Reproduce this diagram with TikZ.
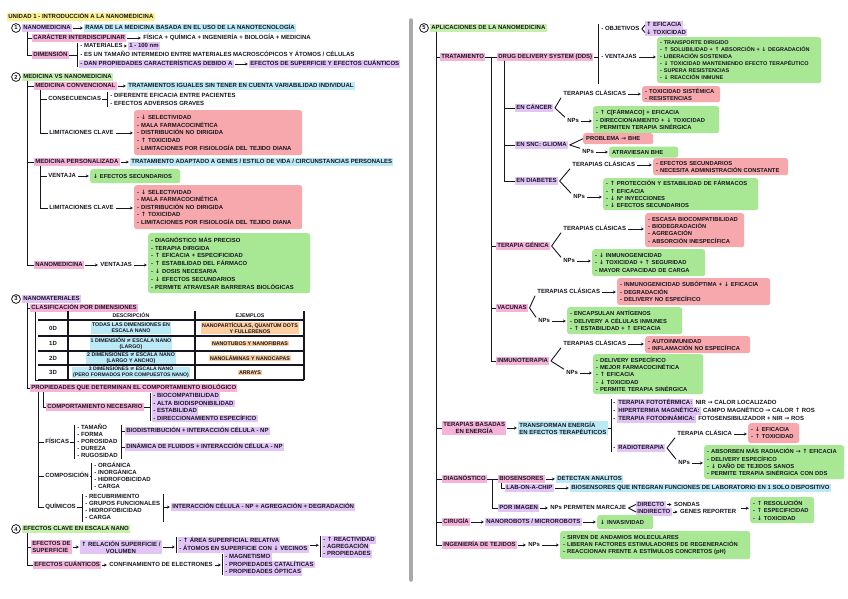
\documentclass[tikz,border=0pt]{standalone}
\usepackage{fontspec}
\setmainfont{Liberation Sans}
\newfontfamily\zsym{DejaVu Sans}
\usetikzlibrary{arrows.meta,positioning,calc}
\newcommand\zUA{{\zsym ↑}}
\newcommand\zDA{{\zsym ↓}}
\newcommand\zRA{{\zsym →}}
\newcommand\zNE{{\zsym ≠}}
\newcommand\zfs{\fontsize{6.0}{7}\selectfont\bfseries}
\newcommand\zfm{\fontsize{6.0}{7}\selectfont\bfseries}
\newcommand\zfb{\fontsize{5.8}{7.3}\selectfont\bfseries}
\newcommand\zft{\fontsize{5.3}{6.2}\selectfont\bfseries}
\newcommand\zfn{\fontsize{5.8}{6}\selectfont\bfseries}
\newcommand\zbrk[4]{\coordinate (#1t) at (#2,#3); \coordinate (#1b) at (#2,#4); \draw[ln] (#1t) -- (#1b);}
\newcommand\zlim{- \zDA{} SELECTIVIDAD\\- MALA FARMACOCINÉTICA\\- DISTRIBUCIÓN NO DIRIGIDA\\- \zUA{} TOXICIDAD\\- LIMITACIONES POR FISIOLOGÍA DEL TEJIDO DIANA}
\definecolor{pk}{RGB}{246,178,216}
\definecolor{lil}{RGB}{226,196,246}
\definecolor{blu}{RGB}{188,233,246}
\definecolor{grh}{RGB}{198,240,172}
\definecolor{yel}{RGB}{252,240,140}
\definecolor{org}{RGB}{252,206,160}
\definecolor{grb}{RGB}{168,232,148}
\definecolor{rdb}{RGB}{246,168,172}
\definecolor{ink}{RGB}{22,22,32}
\definecolor{divg}{RGB}{170,170,170}
\begin{document}
\begin{tikzpicture}[x=1pt,y=-1pt,
  L/.style={anchor=west, inner xsep=1.2pt, inner ysep=0.9pt, text height=4.6pt, text depth=0.7pt, font=\zfs, text=ink},
  ML/.style={anchor=west, align=left, inner xsep=1.2pt, inner ysep=0.9pt, font=\zfm, text=ink},
  box/.style={anchor=north west, rounded corners=2.5pt, align=left, inner xsep=3pt, inner ysep=1.5pt, font=\zfb, text=ink},
  gb/.style={box, fill=grb},
  rb/.style={box, fill=rdb},
  ln/.style={draw=ink, line width=0.9pt},
  arr/.style={draw=ink, line width=0.7pt, -{Stealth[length=2.8pt,width=3pt]}, shorten <=1pt, shorten >=1.2pt},
  cnum/.style={circle, draw=ink, line width=0.8pt, inner sep=0pt, minimum size=8.8pt, font=\zfn, text=ink},
  tbl/.style={draw=ink, line width=1.2pt},
  tc/.style={font=\zft, align=center, inner xsep=1pt, inner ysep=0.6pt, text=ink}]
\useasboundingbox (0,0) rectangle (848,599);
\fill[white] (0,0) rectangle (848,599);

% ---------------- LEFT PANEL ----------------
\node[L,fill=yel] (ttl) at (7,17) {UNIDAD 1 - INTRODUCCIÓN A LA NANOMEDICINA};

% Section 1
\node[cnum] (c1) at (16,28) {1};
\node[L,fill=lil] (n1) at (22,28) {NANOMEDICINA};
\node[L,fill=blu] (n1b) at (84,28) {RAMA DE LA MEDICINA BASADA EN EL USO DE LA NANOTECNOLOGÍA};
\draw[arr] (n1) -- (n1b);
\node[L,fill=pk] (car) at (32,38) {CARÁCTER INTERDISCIPLINAR};
\node[L] (car2) at (142,38) {FÍSICA + QUÍMICA + INGENIERÍA + BIOLOGÍA + MEDICINA};
\draw[arr] (car) -- (car2);
\node[L,fill=pk] (dim) at (32,55) {DIMENSIÓN};
\draw[ln] ([xshift=5pt]n1.south west) |- (car.west);
\draw[ln] ([xshift=5pt]n1.south west) |- (dim.west);
\zbrk{bd}{77}{43}{67}
\draw[ln] (dim) -- (dim -| bdt);
\node[L] (d1) at (79,46) {- MATERIALES};
\node[L,fill=lil] (d1b) at (128,46) {1 - 100 nm};
\draw[arr] (d1) -- (d1b);
\node[L] (d2) at (79,55) {- ES UN TAMAÑO INTERMEDIO ENTRE MATERIALES MACROSCÓPICOS Y ÁTOMOS / CÉLULAS};
\node[L,fill=lil] (d3) at (79,64) {- DAN PROPIEDADES CARACTERÍSTICAS DEBIDO A};
\node[L,fill=lil] (d3b) at (249,64) {EFECTOS DE SUPERFICIE Y EFECTOS CUÁNTICOS};
\draw[arr] (d3) -- (d3b);

% Section 2
\node[cnum] (c2) at (16,77) {2};
\node[L,fill=grh] (h2) at (22,77) {MEDICINA VS NANOMEDICINA};
\node[L,fill=pk] (mc) at (34,86) {MEDICINA CONVENCIONAL};
\node[L,fill=blu] (mc2) at (127,86) {TRATAMIENTOS IGUALES SIN TENER EN CUENTA VARIABILIDAD INDIVIDUAL};
\draw[arr] (mc) -- (mc2);
\node[L] (cons) at (47,99) {CONSECUENCIAS};
\zbrk{bc}{107}{92}{107}
\draw[ln] (cons) -- (cons -| bct);
\node[L] (cs1) at (109,96) {- DIFERENTE EFICACIA ENTRE PACIENTES};
\node[L] (cs2) at (109,104) {- EFECTOS ADVERSOS GRAVES};
\node[L] (lim1) at (48,133) {LIMITACIONES CLAVE};
\node[rb,text width=162pt,minimum height=45pt,font=\fontsize{5.9}{7.7}\selectfont\bfseries] (r1) at (134,110) {\zlim};
\draw[arr] (lim1) -- (lim1 -| r1.west);
\draw[ln] ([xshift=6pt]mc.south west) |- (cons.west);
\draw[ln] ([xshift=6pt]mc.south west) |- (lim1.west);

\node[L,fill=pk] (mp) at (34,162) {MEDICINA PERSONALIZADA};
\node[L,fill=blu] (mp2) at (130,162) {TRATAMIENTO ADAPTADO A GENES / ESTILO DE VIDA / CIRCUNSTANCIAS PERSONALES};
\draw[arr] (mp) -- (mp2);
\node[L] (ven) at (47,176) {VENTAJA};
\node[gb,text width=84pt,minimum height=14pt] (gv) at (90,169) {\zDA{} EFECTOS SECUNDARIOS};
\draw[arr] (ven) -- (ven -| gv.west);
\node[L] (lim2) at (48,208) {LIMITACIONES CLAVE};
\node[rb,text width=162pt,minimum height=44pt,font=\fontsize{5.9}{7.6}\selectfont\bfseries] (r2) at (134,185) {\zlim};
\draw[arr] (lim2) -- (lim2 -| r2.west);
\draw[ln] ([xshift=6pt]mp.south west) |- (ven.west);
\draw[ln] ([xshift=6pt]mp.south west) |- (lim2.west);

\node[L,fill=pk] (nm) at (34,265) {NANOMEDICINA};
\node[L] (nm2) at (99,265) {VENTAJAS};
\draw[arr] (nm) -- (nm2);
\node[gb,text width=156pt,minimum height=60pt,font=\fontsize{5.9}{7.8}\selectfont\bfseries] (gnm) at (148,233) {- DIAGNÓSTICO MÁS PRECISO\\- TERAPIA DIRIGIDA\\- \zUA{} EFICACIA + ESPECIFICIDAD\\- \zUA{} ESTABILIDAD DEL FÁRMACO\\- \zDA{} DOSIS NECESARIA\\- \zDA{} EFECTOS SECUNDARIOS\\- PERMITE ATRAVESAR BARRERAS BIOLÓGICAS};
\draw[arr] (nm2) -- (nm2 -| gnm.west);
\draw[ln] ([xshift=5pt]h2.south west) |- (mc.west);
\draw[ln] ([xshift=5pt]h2.south west) |- (mp.west);
\draw[ln] ([xshift=5pt]h2.south west) |- (nm.west);

% Section 3
\node[cnum] (c3) at (16,299) {3};
\node[L,fill=lil] (h3) at (22,299) {NANOMATERIALES};
\node[L,fill=pk] (cl) at (30,308) {CLASIFICACIÓN POR DIMENSIONES};
\node[L,fill=pk] (prop) at (30,388) {PROPIEDADES QUE DETERMINAN EL COMPORTAMIENTO BIOLÓGICO};
\draw[ln] ([xshift=5pt]h3.south west) |- (cl.west);
\draw[ln] ([xshift=5pt]h3.south west) |- (prop.west);
% table
\coordinate (tbl) at (38,380);
\draw[ln] ([xshift=5pt]cl.south west) |- (tbl);
\foreach \yy in {320,336,351,365,380} \draw[tbl] (38,\yy) -- (304,\yy);
\foreach \xx in {68,195,304} \draw[tbl] (\xx,311) -- (\xx,380);
\node[tc] (thd) at (131,315.5) {DESCRIPCIÓN};
\node[tc] (the) at (250,315.5) {EJEMPLOS};
\node[tc,font=\zfs] (r0) at (53,328) {0D};
\node[tc,font=\zfs] (r1d) at (53,343.5) {1D};
\node[tc,font=\zfs] (r2d) at (53,358) {2D};
\node[tc,font=\zfs] (r3d) at (53,372.5) {3D};
\node[tc,fill=blu] (dd0) at (131,328) {TODAS LAS DIMENSIONES EN\\ESCALA NANO};
\node[tc,fill=blu] (dd1) at (131,343.5) {1 DIMENSIÓN \zNE{} ESCALA NANO\\(LARGO)};
\node[tc,fill=blu] (dd2) at (131,358) {2 DIMENSIONES \zNE{} ESCALA NANO\\(LARGO Y ANCHO)};
\node[tc,fill=blu,font=\fontsize{5.1}{6}\selectfont\bfseries] (dd3) at (131,372.5) {3 DIMENSIONES \zNE{} ESCALA NANO\\(PERO FORMADOS POR COMPUESTOS NANO)};
\node[tc,fill=org] (ee0) at (250,328) {NANOPARTÍCULAS, QUANTUM DOTS\\Y FULLERENOS};
\node[tc,fill=org] (ee1) at (250,343.5) {NANOTUBOS Y NANOFIBRAS};
\node[tc,fill=org] (ee2) at (250,358) {NANOLÁMINAS Y NANOCAPAS};
\node[tc,fill=org] (ee3) at (250,372.5) {ARRAYS};

% properties
\node[L,fill=pk] (cne) at (46,407) {COMPORTAMIENTO NECESARIO};
\zbrk{bq}{150}{393}{421}
\draw[ln] (cne) -- (cne -| bqt);
\node[L,fill=lil] (q1) at (152,396) {- BIOCOMPATIBILIDAD};
\node[L,fill=lil] (q2) at (152,403.5) {- ALTA BIODISPONIBILIDAD};
\node[L,fill=lil] (q3) at (152,411) {- ESTABILIDAD};
\node[L,fill=lil] (q4) at (152,418.5) {- DIRECCIONAMIENTO ESPECÍFICO};
\draw[ln] ([xshift=13pt]prop.south west) |- (cne.west);

\node[L] (fis) at (44,442) {FÍSICAS};
\zbrk{bf}{74}{425}{459}
\draw[ln] (fis) -- (fis -| bft);
\node[L] (f1) at (76,428) {- TAMAÑO};
\node[L] (f2) at (76,435) {- FORMA};
\node[L] (f3) at (76,442) {- POROSIDAD};
\node[L] (f4) at (76,449) {- DUREZA};
\node[L] (f5) at (76,456) {- RUGOSIDAD};
\zbrk{bg}{121}{425}{459}
\node[L,fill=lil] (fo1) at (125,431) {BIODISTRIBUCIÓN + INTERACCIÓN CÉLULA - NP};
\node[L,fill=lil] (fo2) at (125,447) {DINÁMICA DE FLUIDOS + INTERACCIÓN CÉLULA - NP};
\draw[ln] (fo1 -| bgt) -- (fo1);
\draw[ln] (fo2 -| bgt) -- (fo2);

\node[L] (comp) at (44,476) {COMPOSICIÓN};
\zbrk{bk}{91}{463}{490}
\draw[ln] (comp) -- (comp -| bkt);
\node[L] (k1) at (93,466) {- ORGÁNICA};
\node[L] (k2) at (93,473) {- INORGÁNICA};
\node[L] (k3) at (93,480) {- HIDROFOBICIDAD};
\node[L] (k4) at (93,487) {- CARGA};

\node[L] (quim) at (44,507) {QUÍMICOS};
\zbrk{bm}{82}{494}{522}
\draw[ln] (quim) -- (quim -| bmt);
\node[L] (m1) at (84,497) {- RECUBRIMIENTO};
\node[L] (m2) at (84,504) {- GRUPOS FUNCIONALES};
\node[L] (m3) at (84,511) {- HIDROFOBICIDAD};
\node[L] (m4) at (84,518) {- CARGA};
\zbrk{bn}{163}{494}{522}
\node[L,fill=lil] (mo) at (171,507) {INTERACCIÓN CÉLULA - NP + AGREGACIÓN + DEGRADACIÓN};
\draw[arr] (mo -| bnt) -- (mo);
\draw[ln] ([xshift=8pt]prop.south west) |- (fis.west);
\draw[ln] ([xshift=8pt]prop.south west) |- (comp.west);
\draw[ln] ([xshift=8pt]prop.south west) |- (quim.west);

% Section 4
\node[cnum] (c4) at (16,529) {4};
\node[L,fill=grh] (h4) at (22,529) {EFECTOS CLAVE EN ESCALA NANO};
\node[ML,fill=pk] (es) at (31,547) {EFECTOS DE\\SUPERFICIE};
\node[ML,fill=lil,align=center] (es2) at (80,547) {\zUA{} RELACIÓN SUPERFICIE /\\VOLUMEN};
\draw[arr] (es) -- (es2);
\zbrk{bs}{176}{537}{553}
\draw[arr] (es2) -- (es2 -| bst);
\node[L,fill=lil] (s1) at (178,541) {- \zUA{} ÁREA SUPERFICIAL RELATIVA};
\node[L,fill=lil] (s2) at (178,549) {- ÁTOMOS EN SUPERFICIE CON \zDA{} VECINOS};
\zbrk{bt}{320}{536}{557}
\draw[arr] (s2.north east) -- (s2.north east -| btt);
\node[L,fill=lil] (t1) at (322,540) {- \zUA{} REACTIVIDAD};
\node[L,fill=lil] (t2) at (322,547) {- AGREGACIÓN};
\node[L,fill=lil] (t3) at (322,554) {- PROPIEDADES};
\node[L,fill=pk] (eq) at (33,565) {EFECTOS CUÁNTICOS};
\node[L] (eq2) at (108,565) {CONFINAMIENTO DE ELECTRONES};
\draw[arr] (eq) -- (eq2);
\zbrk{bu}{222}{554}{575}
\draw[arr] (eq2) -- (eq2 -| but);
\node[L,fill=lil] (u1) at (224,557) {- MAGNETISMO};
\node[L,fill=lil] (u2) at (224,564.5) {- PROPIEDADES CATALÍTICAS};
\node[L,fill=lil] (u3) at (224,572) {- PROPIEDADES ÓPTICAS};
\draw[ln] ([xshift=5pt]h4.south west) |- (es.west);
\draw[ln] ([xshift=5pt]h4.south west) |- (eq.west);

% divider
\draw[divg, line width=3.5pt, line cap=round] (411,20) -- (411,580);

% ---------------- RIGHT PANEL ----------------
\node[cnum] (c5) at (424,28) {5};
\node[L,fill=grh] (h5) at (430,28) {APLICACIONES DE LA NANOMEDICINA};
\node[L,fill=pk] (tr) at (440,57) {TRATAMIENTO};
\node[L,fill=pk] (dds) at (497,57) {DRUG DELIVERY SYSTEM (DDS)};
\draw[ln] (tr) -- (dds);
\path (tr.east) -- (dds.west) coordinate[pos=0.5] (j1);
\zbrk{bo}{598}{24}{84}
\draw[ln] (dds) -- (dds -| bot);
\node[L] (obj) at (600,29) {- OBJETIVOS};
\node[L,fill=lil] (ef) at (645,25) {\zUA{} EFICACIA};
\node[L,fill=lil] (tx) at (645,32.5) {\zDA{} TOXICIDAD};
\draw[ln] ([xshift=1pt]obj.east) -- (ef.west);
\draw[ln] ([xshift=1pt]obj.east) -- (tx.west);
\node[L] (vent) at (600,57) {- VENTAJAS};
\node[gb,text width=158pt,minimum height=46pt,font=\fontsize{5.5}{7.1}\selectfont\bfseries] (gd) at (657,37) {- TRANSPORTE DIRIGIDO\\- \zUA{} SOLUBILIDAD + \zUA{} ABSORCIÓN + \zDA{} DEGRADACIÓN\\- LIBERACIÓN SOSTENIDA\\- \zDA{} TOXICIDAD MANTENIENDO EFECTO TERAPÉUTICO\\- SUPERA RESISTENCIAS\\- \zDA{} REACCIÓN INMUNE};
\draw[arr] (vent) -- (vent -| gd.west);

% cancer
\node[L,fill=lil] (can) at (515,108) {EN CÁNCER};
\node[L] (tc1) at (562,94) {TERAPIAS CLÁSICAS};
\node[rb,text width=72pt,minimum height=16pt] (rc) at (642,86) {- TOXICIDAD SISTÉMICA\\- RESISTENCIAS};
\draw[arr] (tc1) -- (tc1 -| rc.west);
\node[L] (np1) at (566,121) {NPs};
\node[gb,text width=120pt,minimum height=27pt] (gc) at (593,106) {- \zUA{} C[FÁRMACO] + EFICACIA\\- DIRECCIONAMIENTO + \zDA{} TOXICIDAD\\- PERMITEN TERAPIA SINÉRGICA};
\draw[arr] (np1) -- (np1 -| gc.west);
\draw[ln] ([xshift=1.5pt]can.east) -- ([xshift=-1pt]tc1.south west);
\draw[ln] ([xshift=1.5pt]can.east) -- ([xshift=-1pt]np1.north west);

% SNC
\node[L,fill=lil] (snc) at (515,145) {EN SNC: GLIOMA};
\node[rb,text width=64pt,minimum height=11pt] (rs) at (583,133) {PROBLEMA \zRA{} BHE};
\node[L] (np2) at (581,152) {NPs};
\node[gb,text width=63pt,minimum height=11pt] (gs) at (609,146.5) {ATRAVIESAN BHE};
\draw[arr] (np2) -- (np2 -| gs.west);
\draw[ln] ([xshift=1.5pt]snc.east) -- (rs.west);
\draw[ln] ([xshift=1.5pt]snc.east) -- ([xshift=-1pt]np2.north west);

% diabetes
\node[L,fill=lil] (dib) at (515,181) {EN DIABETES};
\node[L] (tc2) at (571,165) {TERAPIAS CLÁSICAS};
\node[rb,text width=129pt,minimum height=17pt] (rd) at (653,158) {- EFECTOS SECUNDARIOS\\- NECESITA ADMINISTRACIÓN CONSTANTE};
\draw[arr] (tc2) -- (tc2 -| rd.west);
\node[L] (np3) at (572,197) {NPs};
\node[gb,text width=149pt,minimum height=32pt] (gdb) at (603,178) {- \zUA{} PROTECCIÓN Y ESTABILIDAD DE FÁRMACOS\\- \zUA{} EFICACIA\\- \zDA{} Nº INYECCIONES\\- \zDA{} EFECTOS SECUNDARIOS};
\draw[arr] (np3) -- (np3 -| gdb.west);
\draw[ln] ([xshift=1.5pt]dib.east) -- ([xshift=-1pt]tc2.south west);
\draw[ln] ([xshift=1.5pt]dib.east) -- ([xshift=-1pt]np3.north west);
\draw[ln] ([xshift=7pt]dds.south west) |- (can.west);
\draw[ln] ([xshift=7pt]dds.south west) |- (snc.west);
\draw[ln] ([xshift=7pt]dds.south west) |- (dib.west);

% terapia genica
\node[L,fill=pk] (tg) at (496,246) {TERAPIA GÉNICA};
\node[L] (tc3) at (562,229) {TERAPIAS CLÁSICAS};
\node[rb,text width=93pt,minimum height=34pt] (rg) at (645,213) {- ESCASA BIOCOMPATIBILIDAD\\- BIODEGRADACIÓN\\- AGREGACIÓN\\- ABSORCIÓN INESPECÍFICA};
\draw[arr] (tc3) -- (tc3 -| rg.west);
\node[L] (np4) at (562,261) {NPs};
\node[gb,text width=107pt,minimum height=27pt] (gg) at (592,249) {- \zDA{} INMUNOGENICIDAD\\- \zDA{} TOXICIDAD + \zUA{} SEGURIDAD\\- MAYOR CAPACIDAD DE CARGA};
\draw[arr] (np4) -- (np4 -| gg.west);
\draw[ln] ([xshift=1.5pt]tg.east) -- ([xshift=-1pt]tc3.south west);
\draw[ln] ([xshift=1.5pt]tg.east) -- ([xshift=-1pt]np4.north west);

% vacunas
\node[L,fill=pk] (vac) at (496,308) {VACUNAS};
\node[L] (tc4) at (536,292) {TERAPIAS CLÁSICAS};
\node[rb,text width=147pt,minimum height=27pt] (rv) at (617,278) {- INMUNOGENICIDAD SUBÓPTIMA + \zDA{} EFICACIA\\- DEGRADACIÓN\\- DELIVERY NO ESPECÍFICO};
\draw[arr] (tc4) -- (tc4 -| rv.west);
\node[L] (np5) at (537,321) {NPs};
\node[gb,text width=109pt,minimum height=27pt] (gva) at (567,307) {- ENCAPSULAN ANTÍGENOS\\- DELIVERY A CÉLULAS INMUNES\\- \zUA{} ESTABILIDAD + \zUA{} EFICACIA};
\draw[arr] (np5) -- (np5 -| gva.west);
\draw[ln] ([xshift=1.5pt]vac.east) -- ([xshift=-1pt]tc4.south west);
\draw[ln] ([xshift=1.5pt]vac.east) -- ([xshift=-1pt]np5.north west);

% inmunoterapia
\node[L,fill=pk] (inm) at (496,361) {INMUNOTERAPIA};
\node[L] (tc5) at (562,344) {TERAPIAS CLÁSICAS};
\node[rb,text width=99pt,minimum height=17pt] (ri) at (645,336) {- AUTOINMUNIDAD\\- INFLAMACIÓN NO ESPECÍFICA};
\draw[arr] (tc5) -- (tc5 -| ri.west);
\node[L] (np6) at (565,373) {NPs};
\node[gb,text width=104pt,minimum height=40pt] (gi) at (593,354) {- DELIVERY ESPECÍFICO\\- MEJOR FARMACOCINÉTICA\\- \zUA{} EFICACIA\\- \zDA{} TOXICIDAD\\- PERMITE TERAPIA SINÉRGICA};
\draw[arr] (np6) -- (np6 -| gi.west);
\draw[ln] ([xshift=1.5pt]inm.east) -- ([xshift=-1pt]tc5.south west);
\draw[ln] ([xshift=1.5pt]inm.east) -- ([xshift=-1pt]np6.north west);
\draw[ln] (j1) |- (tg.west);
\draw[ln] (j1) |- (vac.west);
\draw[ln] (j1) |- (inm.west);

% terapias basadas en energia
\node[ML,fill=pk,align=center] (teb) at (442,428) {TERAPIAS BASADAS\\EN ENERGÍA};
\node[ML,fill=blu] (teb2) at (518,428) {TRANSFORMAN ENERGÍA\\EN EFECTOS TERAPÉUTICOS};
\draw[arr] (teb) -- (teb2);
\zbrk{be}{611}{399}{452}
\draw[ln] (teb2) -- (teb2 -| bet);
\node[L] (e1a) at (612,403) {-};
\node[L,fill=lil] (e1) at (617,403) {TERAPIA FOTOTÉRMICA:};
\node[L,right=0.5pt of e1] (e1b) {NIR \zRA{} CALOR LOCALIZADO};
\node[L] (e2a) at (612,411) {-};
\node[L,fill=lil] (e2) at (617,411) {HIPERTERMIA MAGNÉTICA:};
\node[L,right=0.5pt of e2] (e2b) {CAMPO MAGNÉTICO \zRA{} CALOR \zUA{} ROS};
\node[L] (e3a) at (612,419) {-};
\node[L,fill=lil] (e3) at (617,419) {TERAPIA FOTODINÁMICA:};
\node[L,right=0.5pt of e3] (e3b) {FOTOSENSIBILIZADOR + NIR \zRA{} ROS};
\node[L] (e4a) at (612,448) {-};
\node[L,fill=lil] (rad) at (617,448) {RADIOTERAPIA};
\node[L] (tcr) at (676,434) {TERAPIA CLÁSICA};
\node[rb,text width=45pt,minimum height=20pt] (rr) at (748,423) {- \zDA{} EFICACIA\\- \zUA{} TOXICIDAD};
\draw[arr] (tcr) -- (tcr -| rr.west);
\node[L] (np7) at (677,463) {NPs};
\node[gb,text width=134pt,minimum height=34pt] (gr) at (704,445) {- ABSORBEN MÁS RADIACIÓN \zRA{} \zUA{} EFICACIA\\- DELIVERY ESPECÍFICO\\- \zDA{} DAÑO DE TEJIDOS SANOS\\- PERMITE TERAPIA SINÉRGICA CON DDS};
\draw[arr] (np7) -- (np7 -| gr.west);
\draw[ln] ([xshift=1.5pt]rad.east) -- ([xshift=-1pt]tcr.south west);
\draw[ln] ([xshift=1.5pt]rad.east) -- ([xshift=-1pt]np7.north west);

% diagnostico
\node[L,fill=pk] (dia) at (442,479) {DIAGNÓSTICO};
\node[L,fill=pk] (bio) at (498,479) {BIOSENSORES};
\path (dia.east) -- (bio.west) coordinate[pos=0.5] (j2);
\draw[ln] (dia) -- (bio);
\node[L,fill=blu] (bio2) at (556,479) {DETECTAN ANALITOS};
\draw[arr] (bio) -- (bio2);
\node[L,fill=lil] (lab) at (505,488) {LAB-ON-A-CHIP};
\node[L,fill=blu] (lab2) at (570,488) {BIOSENSORES QUE INTEGRAN FUNCIONES DE LABORATORIO EN 1 SOLO DISPOSITIVO};
\draw[arr] (lab) -- (lab2);
\draw[ln] ([xshift=3pt]bio.south west) |- (lab.west);
\node[L,fill=lil] (pim) at (498,508) {POR IMAGEN};
\node[L] (pim2) at (549,508) {NPs PERMITEN MARCAJE};
\draw[arr] (pim) -- (pim2);
\draw[ln] (j2) |- (pim.west);
\node[L,fill=lil] (dir) at (636,504.5) {DIRECTO};
\node[L,right=7pt of dir] (dir2) {SONDAS};
\draw[arr] (dir) -- (dir2);
\node[L,fill=lil] (ind) at (636,512) {INDIRECTO};
\node[L,right=7pt of ind] (ind2) {GENES REPORTER};
\draw[arr] (ind) -- (ind2);
\draw[ln] ([xshift=1pt]pim2.east) -- (dir.west);
\draw[ln] ([xshift=1pt]pim2.east) -- (ind.west);
\node[gb,text width=58pt,minimum height=26pt] (gdi) at (750,497) {- \zUA{} RESOLUCIÓN\\- \zUA{} ESPECIFICIDAD\\- \zDA{} TOXICIDAD};
\coordinate (dxa) at ($(ind2.north east)+(2,0)$);
\draw[arr] (dxa) -- (dxa -| gdi.west);

% cirugia
\node[L,fill=pk] (cir) at (442,522) {CIRUGÍA};
\node[L,fill=lil] (cir2) at (485,522) {NANOROBOTS / MICROROBOTS};
\draw[arr] (cir) -- (cir2);
\node[gb,text width=50pt,minimum height=14pt] (gci) at (597,515) {\zDA{} INVASIVIDAD};
\draw[arr] (cir2) -- (cir2 -| gci.west);

% ingenieria de tejidos
\node[L,fill=pk] (ing) at (442,545) {INGENIERÍA DE TEJIDOS};
\node[L] (ing2) at (527,545) {NPs};
\draw[arr] (ing) -- (ing2);
\node[gb,text width=184pt,minimum height=28pt] (gin) at (560,531) {- SIRVEN DE ANDAMIOS MOLECULARES\\- LIBERAN FACTORES ESTIMULADORES DE REGENERACIÓN\\- REACCIONAN FRENTE A ESTÍMULOS CONCRETOS (pH)};
\draw[arr] (ing2) -- (ing2 -| gin.west);

\foreach \nn in {tr,teb,dia,cir,ing} \draw[ln] ([xshift=6pt]h5.south west) |- (\nn.west);
\end{tikzpicture}
\end{document}
